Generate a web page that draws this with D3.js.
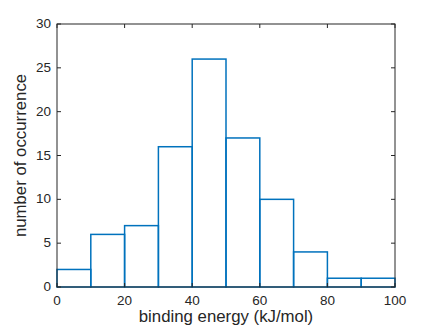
<!DOCTYPE html>
<html><head><meta charset="utf-8">
<script src="https://cdn.jsdelivr.net/npm/d3@7"></script>
<style>body{margin:0;background:#fff}svg{display:block}text{font-family:"Liberation Sans",Arial,sans-serif;fill:#262626}</style>
</head><body><svg id="c" width="436" height="327"></svg>
<script>
const binEdges = [0,10,20,30,40,50,60,70,80,90,100];
const counts = [2,6,7,16,26,17,10,4,1,1];
const xTicks = [0,20,40,60,80,100];
const yTicks = [0,5,10,15,20,25,30];
const xLabel = "binding energy (kJ/mol)";
const yLabel = "number of occurrence";

const svg = d3.select("#c");
const L=57, R=395, T=24, B=287;
const x = d3.scaleLinear().domain([0,100]).range([L,R]);
const y = d3.scaleLinear().domain([0,30]).range([B,T]);
const tl = 4;

const bars = counts.map((c,i)=>({x0:binEdges[i],x1:binEdges[i+1],c}));
svg.append("g").selectAll("rect").data(bars).join("rect")
  .attr("x",d=>x(d.x0)).attr("y",d=>y(d.c))
  .attr("width",d=>x(d.x1)-x(d.x0)).attr("height",d=>y(0)-y(d.c))
  .attr("fill","none").attr("stroke","#0072BD").attr("stroke-width",1.5);

const ax = svg.append("g").attr("stroke","#262626").attr("stroke-width",1).attr("fill","none");
ax.append("rect").attr("x",L).attr("y",T).attr("width",R-L).attr("height",B-T);
xTicks.forEach(v=>{
  ax.append("line").attr("x1",x(v)).attr("x2",x(v)).attr("y1",B).attr("y2",B-tl);
  ax.append("line").attr("x1",x(v)).attr("x2",x(v)).attr("y1",T).attr("y2",T+tl);
});
yTicks.forEach(v=>{
  ax.append("line").attr("x1",L).attr("x2",L+tl).attr("y1",y(v)).attr("y2",y(v));
  ax.append("line").attr("x1",R).attr("x2",R-tl).attr("y1",y(v)).attr("y2",y(v));
});
svg.append("g").selectAll("text").data(xTicks).join("text")
  .attr("x",d=>x(d)).attr("y",B+17.5).attr("text-anchor","middle").attr("font-size",13.5).text(d=>d);
svg.append("g").selectAll("text").data(yTicks).join("text")
  .attr("x",L-6).attr("y",d=>y(d)).attr("dy","0.3em").attr("text-anchor","end").attr("font-size",13.5).text(d=>d);
svg.append("text").attr("x",(L+R)/2).attr("y",322).attr("text-anchor","middle").attr("font-size",16.8).text(xLabel);
svg.append("text").attr("transform",`translate(26,${(T+B)/2}) rotate(-90)`).attr("text-anchor","middle").attr("font-size",16.8).text(yLabel);
</script></body></html>
